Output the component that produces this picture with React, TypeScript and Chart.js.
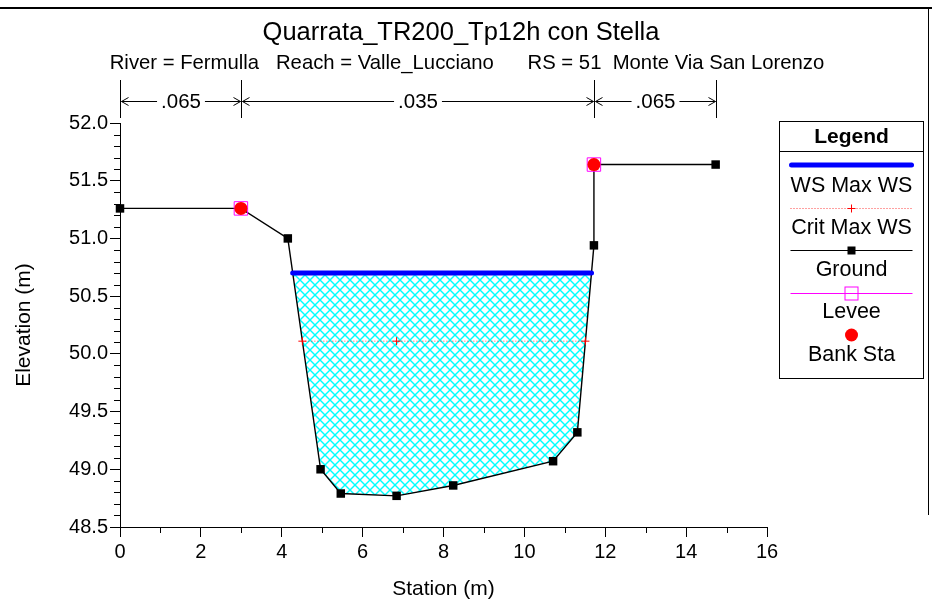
import React, { useEffect, useRef } from 'react';
import { Chart, registerables } from 'chart.js';

Chart.register(...registerables);

const FONT = "'Liberation Sans', Arial, Helvetica, sans-serif";

// ---- text ----
const chartTitle = 'Quarrata_TR200_Tp12h con Stella';
const chartSubtitle = 'River = Fermulla   Reach = Valle_Lucciano      RS = 51  Monte Via San Lorenzo';
const xAxisTitle = 'Station (m)';
const yAxisTitle = 'Elevation (m)';
const legendTitle = 'Legend';
const seriesNames = ['WS Max WS', 'Crit Max WS', 'Ground', 'Levee', 'Bank Sta'];

// ---- data ----
const groundStation = [0, 2.99, 4.15, 4.96, 5.46, 6.84, 8.24, 10.71, 11.31, 11.72, 11.72, 14.73];
const groundElev = [51.26, 51.26, 51.0, 49.0, 48.79, 48.77, 48.86, 49.07, 49.32, 50.94, 51.64, 51.64];

const wsElev = 50.7;
const wsStations = [4.27, 11.66];

const critElev = 50.11;
const critStations = [4.51, 6.84, 11.51];

const leveeStation = [2.99, 11.72];
const leveeElev = [51.26, 51.64];

const bankStation = [2.99, 11.72];
const bankElev = [51.26, 51.64];

const manningBreaks = [0, 2.99, 11.72, 14.73];
const manningValues = ['.065', '.035', '.065'];

// ---- axes ----
const xMin = 0;
const xMax = 16;
const xStep = 2;
const xMinorStep = 1;
const yMin = 48.5;
const yMax = 52.0;
const yStep = 0.5;
const yMinorStep = 0.1;

// ---- styles ----
const WS_COLOR = '#0000ff';
const CRIT_COLOR = '#ff0000';
const GROUND_COLOR = '#000000';
const LEVEE_COLOR = '#ff00ff';
const BANK_COLOR = '#ff0000';
const HATCH_COLOR = '#00ffff';

function makeHatch(): CanvasPattern | string {
  const c = document.createElement('canvas');
  c.width = 10;
  c.height = 10;
  const g = c.getContext('2d');
  if (!g) return 'rgba(0,255,255,0.4)';
  g.fillStyle = '#ffffff';
  g.fillRect(0, 0, 10, 10);
  g.strokeStyle = HATCH_COLOR;
  g.lineWidth = 1.4;
  for (const o of [-10, 0, 10]) {
    g.beginPath();
    g.moveTo(o - 1, -1);
    g.lineTo(o + 11, 11);
    g.stroke();
    g.beginPath();
    g.moveTo(o + 11, -1);
    g.lineTo(o - 1, 11);
    g.stroke();
  }
  return g.createPattern(c, 'repeat') || 'rgba(0,255,255,0.4)';
}

const decorPlugin = {
  id: 'decor',
  afterDraw(chart: any) {
    const ctx: CanvasRenderingContext2D = chart.ctx;
    const xs = chart.scales.x;
    const ys = chart.scales.y;
    const area = chart.chartArea;
    ctx.save();

    // frame
    ctx.fillStyle = '#000';
    ctx.fillRect(0, 7, chart.width, 2);
    ctx.fillRect(928, 7, 1, 508);

    // titles
    ctx.fillStyle = '#000';
    ctx.textAlign = 'center';
    ctx.textBaseline = 'alphabetic';
    ctx.font = `25.5px ${FONT}`;
    ctx.fillText(chartTitle, 461, 40);
    ctx.font = `20.3px ${FONT}`;
    ctx.fillText(chartSubtitle, 467, 69);

    // minor ticks
    ctx.strokeStyle = '#000';
    ctx.lineWidth = 1;
    const ny = Math.round((yMax - yMin) / yMinorStep);
    const perMajorY = Math.round(yStep / yMinorStep);
    for (let k = 0; k <= ny; k++) {
      if (k % perMajorY === 0) continue;
      const py = Math.round(ys.getPixelForValue(yMin + k * yMinorStep)) + 0.5;
      ctx.beginPath();
      ctx.moveTo(area.left - 6, py);
      ctx.lineTo(area.left, py);
      ctx.stroke();
    }
    const nx = Math.round((xMax - xMin) / xMinorStep);
    const perMajorX = Math.round(xStep / xMinorStep);
    for (let k = 0; k <= nx; k++) {
      if (k % perMajorX === 0) continue;
      const px = Math.round(xs.getPixelForValue(xMin + k * xMinorStep)) + 0.5;
      ctx.beginPath();
      ctx.moveTo(px, area.bottom);
      ctx.lineTo(px, area.bottom + 6);
      ctx.stroke();
    }

    // Manning's n bands
    const topY = 80;
    const botY = 118;
    const arrowY = 101.5;
    for (const b of manningBreaks) {
      const px = Math.round(xs.getPixelForValue(b)) + 0.5;
      ctx.beginPath();
      ctx.moveTo(px, topY);
      ctx.lineTo(px, botY);
      ctx.stroke();
    }
    ctx.font = `20.5px ${FONT}`;
    ctx.textBaseline = 'middle';
    for (let i = 0; i < manningValues.length; i++) {
      const x1 = Math.round(xs.getPixelForValue(manningBreaks[i])) + 0.5;
      const x2 = Math.round(xs.getPixelForValue(manningBreaks[i + 1])) + 0.5;
      const cx = (x1 + x2) / 2;
      const w = ctx.measureText(manningValues[i]).width;
      const gap = w / 2 + 4;
      ctx.beginPath();
      ctx.moveTo(x1 + 1, arrowY);
      ctx.lineTo(cx - gap, arrowY);
      ctx.moveTo(cx + gap, arrowY);
      ctx.lineTo(x2 - 1, arrowY);
      // arrowheads
      ctx.moveTo(x1 + 8, arrowY - 4);
      ctx.lineTo(x1 + 1, arrowY);
      ctx.lineTo(x1 + 8, arrowY + 4);
      ctx.moveTo(x2 - 8, arrowY - 4);
      ctx.lineTo(x2 - 1, arrowY);
      ctx.lineTo(x2 - 8, arrowY + 4);
      ctx.stroke();
      ctx.fillText(manningValues[i], cx, arrowY + 1);
    }

    // Legend box
    const lx = 779.5;
    const ly = 121.5;
    const lw = 144;
    const lh = 257;
    const cx = lx + lw / 2;
    const sx1 = lx + 11;
    const sx2 = lx + lw - 11;
    ctx.lineWidth = 1;
    ctx.strokeStyle = '#000';
    ctx.strokeRect(lx, ly, lw, lh);
    ctx.beginPath();
    ctx.moveTo(lx, 151.5);
    ctx.lineTo(lx + lw, 151.5);
    ctx.stroke();
    ctx.textAlign = 'center';
    ctx.textBaseline = 'middle';
    ctx.font = `bold 21px ${FONT}`;
    ctx.fillText(legendTitle, cx, 137);
    ctx.font = `21.5px ${FONT}`;

    // WS
    ctx.strokeStyle = WS_COLOR;
    ctx.lineWidth = 5;
    ctx.lineCap = 'round';
    ctx.beginPath();
    ctx.moveTo(sx1 + 1, 165);
    ctx.lineTo(sx2 - 1, 165);
    ctx.stroke();
    ctx.lineCap = 'butt';
    ctx.fillText(seriesNames[0], cx, 186);

    // Crit
    ctx.strokeStyle = 'rgba(255,0,0,0.75)';
    ctx.lineWidth = 1;
    ctx.setLineDash([1, 2]);
    ctx.beginPath();
    ctx.moveTo(sx1, 208.5);
    ctx.lineTo(sx2, 208.5);
    ctx.stroke();
    ctx.setLineDash([]);
    ctx.strokeStyle = CRIT_COLOR;
    ctx.beginPath();
    ctx.moveTo(cx - 4, 208.5);
    ctx.lineTo(cx + 4, 208.5);
    ctx.moveTo(cx, 204.5);
    ctx.lineTo(cx, 212.5);
    ctx.stroke();
    ctx.fillText(seriesNames[1], cx, 228);

    // Ground
    ctx.strokeStyle = GROUND_COLOR;
    ctx.lineWidth = 1.2;
    ctx.beginPath();
    ctx.moveTo(sx1, 250.5);
    ctx.lineTo(sx2, 250.5);
    ctx.stroke();
    ctx.fillStyle = GROUND_COLOR;
    ctx.fillRect(cx - 4, 246.5, 8, 8);
    ctx.fillStyle = '#000';
    ctx.fillText(seriesNames[2], cx, 270);

    // Levee
    ctx.strokeStyle = LEVEE_COLOR;
    ctx.lineWidth = 1;
    ctx.beginPath();
    ctx.moveTo(sx1, 293.5);
    ctx.lineTo(sx2, 293.5);
    ctx.stroke();
    ctx.strokeRect(cx - 6.5, 287, 13, 13);
    ctx.fillText(seriesNames[3], cx, 312);

    // Bank
    ctx.fillStyle = BANK_COLOR;
    ctx.beginPath();
    ctx.arc(cx, 335, 6.5, 0, Math.PI * 2);
    ctx.fill();
    ctx.fillStyle = '#000';
    ctx.fillText(seriesNames[4], cx, 355);

    ctx.restore();
  },
};

export default function App() {
  const ref = useRef<HTMLCanvasElement | null>(null);

  useEffect(() => {
    const canvas = ref.current;
    if (!canvas) return;

    const groundPts = groundStation.map((s, i) => ({ x: s, y: groundElev[i] }));
    const waterPoly = [
      { x: wsStations[0], y: wsElev },
      ...groundPts.filter((p) => p.x > wsStations[0] && p.x < wsStations[1] && p.y < wsElev),
      { x: wsStations[1], y: wsElev },
    ];

    const chart = new Chart(canvas, {
      type: 'scatter',
      data: {
        datasets: [
          {
            label: 'water',
            data: waterPoly,
            showLine: true,
            borderWidth: 0,
            borderColor: 'rgba(0,0,0,0)',
            pointRadius: 0,
            fill: 'shape',
            backgroundColor: makeHatch() as any,
            order: 10,
            clip: false,
          } as any,
          {
            label: seriesNames[2],
            data: groundPts,
            showLine: true,
            borderColor: GROUND_COLOR,
            borderWidth: 1.4,
            pointStyle: 'rect',
            pointRadius: 6,
            pointBackgroundColor: GROUND_COLOR,
            pointBorderColor: GROUND_COLOR,
            pointBorderWidth: 0,
            order: 5,
            clip: false,
          },
          {
            label: seriesNames[1],
            data: critStations.map((s) => ({ x: s, y: critElev })),
            showLine: true,
            borderColor: 'rgba(255,0,0,0.75)',
            borderWidth: 1,
            borderDash: [1, 2],
            pointStyle: 'cross',
            pointRadius: 4,
            pointBorderColor: CRIT_COLOR,
            pointBorderWidth: 1,
            order: 4,
            clip: false,
          },
          {
            label: seriesNames[0],
            data: wsStations.map((s) => ({ x: s, y: wsElev })),
            showLine: true,
            borderColor: WS_COLOR,
            borderWidth: 5,
            borderCapStyle: 'round',
            pointRadius: 0,
            order: 3,
            clip: false,
          },
          {
            label: seriesNames[3],
            data: leveeStation.map((s, i) => ({ x: s, y: leveeElev[i] })),
            showLine: false,
            pointStyle: 'rect',
            pointRadius: 9.5,
            pointBackgroundColor: 'rgba(0,0,0,0)',
            pointBorderColor: LEVEE_COLOR,
            pointBorderWidth: 1,
            order: 2,
            clip: false,
          },
          {
            label: seriesNames[4],
            data: bankStation.map((s, i) => ({ x: s, y: bankElev[i] })),
            showLine: false,
            pointStyle: 'circle',
            pointRadius: 6.5,
            pointBackgroundColor: BANK_COLOR,
            pointBorderColor: BANK_COLOR,
            pointBorderWidth: 0,
            order: 1,
            clip: false,
          },
        ],
      },
      options: {
        responsive: false,
        animation: false,
        devicePixelRatio: 1,
        events: [],
        layout: { padding: { top: 123, right: 165, bottom: 0, left: 0 } },
        plugins: {
          legend: { display: false },
          tooltip: { enabled: false },
          title: { display: false },
        },
        scales: {
          x: {
            type: 'linear',
            min: xMin,
            max: xMax,
            ticks: {
              stepSize: xStep,
              color: '#000',
              font: { family: FONT, size: 20 },
              padding: 3,
              maxRotation: 0,
              autoSkip: false,
              callback: (v: any) => String(v),
            },
            grid: { display: true, drawOnChartArea: false, drawTicks: true, tickLength: 10, tickColor: '#000' },
            border: { display: true, color: '#000', width: 1 },
            title: {
              display: true,
              text: xAxisTitle,
              color: '#000',
              font: { family: FONT, size: 21 },
              padding: { top: 0, bottom: 6 },
            },
            afterFit: (s: any) => {
              s.height = 81;
            },
          },
          y: {
            type: 'linear',
            min: yMin,
            max: yMax,
            ticks: {
              stepSize: yStep,
              color: '#000',
              font: { family: FONT, size: 20 },
              padding: 2,
              autoSkip: false,
              callback: (v: any) => Number(v).toFixed(1),
            },
            grid: { display: true, drawOnChartArea: false, drawTicks: true, tickLength: 10, tickColor: '#000' },
            border: { display: true, color: '#000', width: 1 },
            title: {
              display: true,
              text: yAxisTitle,
              color: '#000',
              font: { family: FONT, size: 21 },
              padding: { top: 12, bottom: 0 },
            },
            afterFit: (s: any) => {
              s.width = 120;
            },
          },
        },
      },
      plugins: [decorPlugin],
    } as any);

    return () => chart.destroy();
  }, []);

  return (
    <div style={{ position: 'absolute', left: 0, top: 0, width: 932, height: 608, background: '#fff' }}>
      <canvas ref={ref} width={932} height={608} style={{ display: 'block', width: 932, height: 608 }} />
    </div>
  );
}
